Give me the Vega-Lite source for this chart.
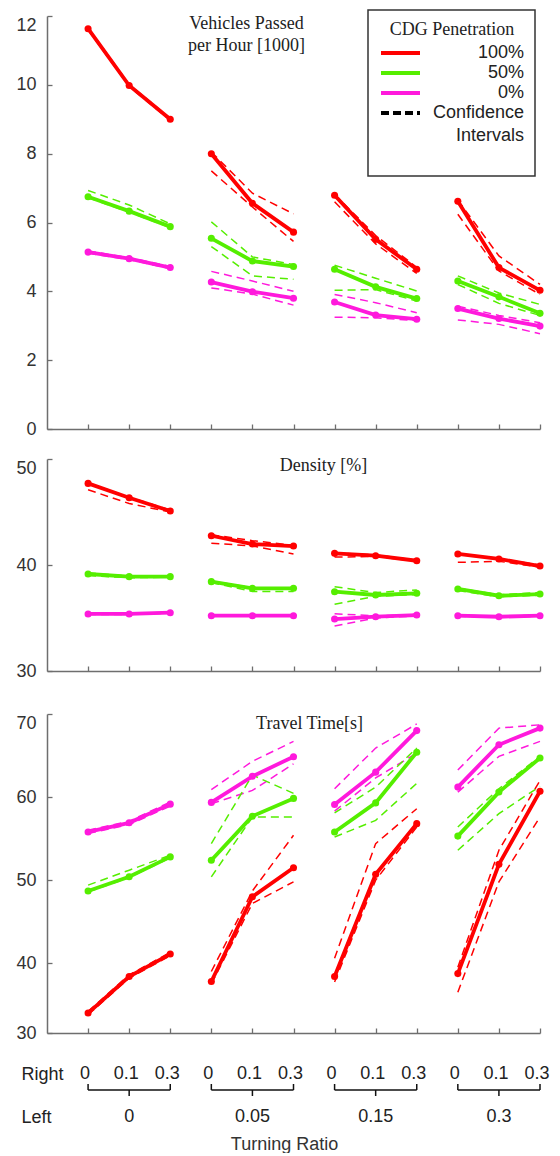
{
"$schema": "https://vega.github.io/schema/vega-lite/v6.json",
"padding": {"left": 15, "top": 9, "right": 5, "bottom": 0},
"config": {
  "view": {"stroke": null},
  "axis": {"grid": false, "domainColor": "#6e6e6e", "domainWidth": 1.5, "tickColor": "#6e6e6e", "tickWidth": 1.3, "labelFont": "Liberation Sans", "labelFontSize": 18, "labelColor": "#333333"}
},
"data": {"values": [
{"m":"flow","pen":"100%","left":"0","right":"0","i":1,"mean":11.63,"lo":11.6,"hi":11.66},
{"m":"flow","pen":"100%","left":"0","right":"0.1","i":2,"mean":9.98,"lo":9.95,"hi":10.01},
{"m":"flow","pen":"100%","left":"0","right":"0.3","i":3,"mean":9.0,"lo":8.97,"hi":9.03},
{"m":"flow","pen":"100%","left":"0.05","right":"0","i":4,"mean":8.0,"lo":7.5,"hi":8.05},
{"m":"flow","pen":"100%","left":"0.05","right":"0.1","i":5,"mean":6.56,"lo":6.45,"hi":6.85},
{"m":"flow","pen":"100%","left":"0.05","right":"0.3","i":6,"mean":5.72,"lo":5.45,"hi":6.25},
{"m":"flow","pen":"100%","left":"0.15","right":"0","i":7,"mean":6.79,"lo":6.6,"hi":6.82},
{"m":"flow","pen":"100%","left":"0.15","right":"0.1","i":8,"mean":5.51,"lo":5.38,"hi":5.62},
{"m":"flow","pen":"100%","left":"0.15","right":"0.3","i":9,"mean":4.64,"lo":4.52,"hi":4.7},
{"m":"flow","pen":"100%","left":"0.3","right":"0","i":10,"mean":6.62,"lo":6.24,"hi":6.65},
{"m":"flow","pen":"100%","left":"0.3","right":"0.1","i":11,"mean":4.69,"lo":4.59,"hi":5.03},
{"m":"flow","pen":"100%","left":"0.3","right":"0.3","i":12,"mean":4.03,"lo":3.91,"hi":4.2},
{"m":"flow","pen":"50%","left":"0","right":"0","i":1,"mean":6.75,"lo":6.72,"hi":6.93},
{"m":"flow","pen":"50%","left":"0","right":"0.1","i":2,"mean":6.33,"lo":6.3,"hi":6.51},
{"m":"flow","pen":"50%","left":"0","right":"0.3","i":3,"mean":5.88,"lo":5.85,"hi":5.96},
{"m":"flow","pen":"50%","left":"0.05","right":"0","i":4,"mean":5.54,"lo":5.3,"hi":6.02},
{"m":"flow","pen":"50%","left":"0.05","right":"0.1","i":5,"mean":4.88,"lo":4.45,"hi":5.0},
{"m":"flow","pen":"50%","left":"0.05","right":"0.3","i":6,"mean":4.72,"lo":4.35,"hi":4.78},
{"m":"flow","pen":"50%","left":"0.15","right":"0","i":7,"mean":4.64,"lo":4.03,"hi":4.76},
{"m":"flow","pen":"50%","left":"0.15","right":"0.1","i":8,"mean":4.13,"lo":4.05,"hi":4.38},
{"m":"flow","pen":"50%","left":"0.15","right":"0.3","i":9,"mean":3.79,"lo":3.72,"hi":4.01},
{"m":"flow","pen":"50%","left":"0.3","right":"0","i":10,"mean":4.3,"lo":4.2,"hi":4.45},
{"m":"flow","pen":"50%","left":"0.3","right":"0.1","i":11,"mean":3.84,"lo":3.65,"hi":3.95},
{"m":"flow","pen":"50%","left":"0.3","right":"0.3","i":12,"mean":3.36,"lo":3.3,"hi":3.62},
{"m":"flow","pen":"0%","left":"0","right":"0","i":1,"mean":5.14,"lo":5.11,"hi":5.17},
{"m":"flow","pen":"0%","left":"0","right":"0.1","i":2,"mean":4.95,"lo":4.92,"hi":4.98},
{"m":"flow","pen":"0%","left":"0","right":"0.3","i":3,"mean":4.69,"lo":4.66,"hi":4.72},
{"m":"flow","pen":"0%","left":"0.05","right":"0","i":4,"mean":4.27,"lo":4.1,"hi":4.58},
{"m":"flow","pen":"0%","left":"0.05","right":"0.1","i":5,"mean":3.99,"lo":3.92,"hi":4.3},
{"m":"flow","pen":"0%","left":"0.05","right":"0.3","i":6,"mean":3.8,"lo":3.6,"hi":4.0},
{"m":"flow","pen":"0%","left":"0.15","right":"0","i":7,"mean":3.69,"lo":3.25,"hi":3.91},
{"m":"flow","pen":"0%","left":"0.15","right":"0.1","i":8,"mean":3.31,"lo":3.23,"hi":3.67},
{"m":"flow","pen":"0%","left":"0.15","right":"0.3","i":9,"mean":3.19,"lo":3.15,"hi":3.38},
{"m":"flow","pen":"0%","left":"0.3","right":"0","i":10,"mean":3.5,"lo":3.17,"hi":3.57},
{"m":"flow","pen":"0%","left":"0.3","right":"0.1","i":11,"mean":3.21,"lo":3.04,"hi":3.3},
{"m":"flow","pen":"0%","left":"0.3","right":"0.3","i":12,"mean":2.99,"lo":2.77,"hi":3.09},
{"m":"dens","pen":"100%","left":"0","right":"0","i":1,"mean":47.7,"lo":47.1,"hi":47.75},
{"m":"dens","pen":"100%","left":"0","right":"0.1","i":2,"mean":46.35,"lo":45.8,"hi":46.4},
{"m":"dens","pen":"100%","left":"0","right":"0.3","i":3,"mean":45.1,"lo":45.0,"hi":45.2},
{"m":"dens","pen":"100%","left":"0.05","right":"0","i":4,"mean":42.76,"lo":42.05,"hi":42.85},
{"m":"dens","pen":"100%","left":"0.05","right":"0.1","i":5,"mean":41.98,"lo":41.8,"hi":42.3},
{"m":"dens","pen":"100%","left":"0.05","right":"0.3","i":6,"mean":41.79,"lo":41.04,"hi":41.85},
{"m":"dens","pen":"100%","left":"0.15","right":"0","i":7,"mean":41.1,"lo":40.75,"hi":41.15},
{"m":"dens","pen":"100%","left":"0.15","right":"0.1","i":8,"mean":40.88,"lo":40.8,"hi":40.95},
{"m":"dens","pen":"100%","left":"0.15","right":"0.3","i":9,"mean":40.4,"lo":40.35,"hi":40.45},
{"m":"dens","pen":"100%","left":"0.3","right":"0","i":10,"mean":41.04,"lo":40.25,"hi":41.05},
{"m":"dens","pen":"100%","left":"0.3","right":"0.1","i":11,"mean":40.57,"lo":40.35,"hi":40.6},
{"m":"dens","pen":"100%","left":"0.3","right":"0.3","i":12,"mean":39.9,"lo":39.8,"hi":40.0},
{"m":"dens","pen":"50%","left":"0","right":"0","i":1,"mean":39.15,"lo":39.0,"hi":39.25},
{"m":"dens","pen":"50%","left":"0","right":"0.1","i":2,"mean":38.9,"lo":38.8,"hi":38.95},
{"m":"dens","pen":"50%","left":"0","right":"0.3","i":3,"mean":38.9,"lo":38.85,"hi":38.95},
{"m":"dens","pen":"50%","left":"0.05","right":"0","i":4,"mean":38.43,"lo":38.35,"hi":38.5},
{"m":"dens","pen":"50%","left":"0.05","right":"0.1","i":5,"mean":37.8,"lo":37.5,"hi":37.85},
{"m":"dens","pen":"50%","left":"0.05","right":"0.3","i":6,"mean":37.8,"lo":37.5,"hi":37.85},
{"m":"dens","pen":"50%","left":"0.15","right":"0","i":7,"mean":37.48,"lo":36.3,"hi":37.95},
{"m":"dens","pen":"50%","left":"0.15","right":"0.1","i":8,"mean":37.17,"lo":37.05,"hi":37.4},
{"m":"dens","pen":"50%","left":"0.15","right":"0.3","i":9,"mean":37.33,"lo":37.2,"hi":37.65},
{"m":"dens","pen":"50%","left":"0.3","right":"0","i":10,"mean":37.74,"lo":37.6,"hi":37.8},
{"m":"dens","pen":"50%","left":"0.3","right":"0.1","i":11,"mean":37.1,"lo":37.0,"hi":37.2},
{"m":"dens","pen":"50%","left":"0.3","right":"0.3","i":12,"mean":37.26,"lo":37.15,"hi":37.4},
{"m":"dens","pen":"0%","left":"0","right":"0","i":1,"mean":35.38,"lo":35.33,"hi":35.43},
{"m":"dens","pen":"0%","left":"0","right":"0.1","i":2,"mean":35.38,"lo":35.33,"hi":35.43},
{"m":"dens","pen":"0%","left":"0","right":"0.3","i":3,"mean":35.5,"lo":35.45,"hi":35.55},
{"m":"dens","pen":"0%","left":"0.05","right":"0","i":4,"mean":35.22,"lo":35.17,"hi":35.27},
{"m":"dens","pen":"0%","left":"0.05","right":"0.1","i":5,"mean":35.22,"lo":35.17,"hi":35.27},
{"m":"dens","pen":"0%","left":"0.05","right":"0.3","i":6,"mean":35.22,"lo":35.17,"hi":35.27},
{"m":"dens","pen":"0%","left":"0.15","right":"0","i":7,"mean":34.9,"lo":34.25,"hi":35.4},
{"m":"dens","pen":"0%","left":"0.15","right":"0.1","i":8,"mean":35.12,"lo":35.0,"hi":35.2},
{"m":"dens","pen":"0%","left":"0.15","right":"0.3","i":9,"mean":35.28,"lo":35.2,"hi":35.35},
{"m":"dens","pen":"0%","left":"0.3","right":"0","i":10,"mean":35.22,"lo":35.17,"hi":35.27},
{"m":"dens","pen":"0%","left":"0.3","right":"0.1","i":11,"mean":35.12,"lo":35.07,"hi":35.17},
{"m":"dens","pen":"0%","left":"0.3","right":"0.3","i":12,"mean":35.22,"lo":35.17,"hi":35.27},
{"m":"tt","pen":"100%","left":"0","right":"0","i":1,"mean":34.0,"lo":33.8,"hi":34.2},
{"m":"tt","pen":"100%","left":"0","right":"0.1","i":2,"mean":38.4,"lo":38.2,"hi":38.6},
{"m":"tt","pen":"100%","left":"0","right":"0.3","i":3,"mean":41.1,"lo":40.9,"hi":41.3},
{"m":"tt","pen":"100%","left":"0.05","right":"0","i":4,"mean":37.8,"lo":37.5,"hi":39.0},
{"m":"tt","pen":"100%","left":"0.05","right":"0.1","i":5,"mean":48.0,"lo":47.2,"hi":48.7},
{"m":"tt","pen":"100%","left":"0.05","right":"0.3","i":6,"mean":51.5,"lo":49.8,"hi":55.4},
{"m":"tt","pen":"100%","left":"0.15","right":"0","i":7,"mean":38.4,"lo":37.75,"hi":40.6},
{"m":"tt","pen":"100%","left":"0.15","right":"0.1","i":8,"mean":50.7,"lo":50.0,"hi":54.4},
{"m":"tt","pen":"100%","left":"0.15","right":"0.3","i":9,"mean":56.8,"lo":56.4,"hi":58.6},
{"m":"tt","pen":"100%","left":"0.3","right":"0","i":10,"mean":38.75,"lo":36.5,"hi":39.5},
{"m":"tt","pen":"100%","left":"0.3","right":"0.1","i":11,"mean":51.9,"lo":49.8,"hi":53.6},
{"m":"tt","pen":"100%","left":"0.3","right":"0.3","i":12,"mean":60.7,"lo":57.6,"hi":62.0},
{"m":"tt","pen":"50%","left":"0","right":"0","i":1,"mean":48.7,"lo":48.6,"hi":49.4},
{"m":"tt","pen":"50%","left":"0","right":"0.1","i":2,"mean":50.4,"lo":50.3,"hi":51.2},
{"m":"tt","pen":"50%","left":"0","right":"0.3","i":3,"mean":52.8,"lo":52.7,"hi":53.0},
{"m":"tt","pen":"50%","left":"0.05","right":"0","i":4,"mean":52.4,"lo":50.4,"hi":54.4},
{"m":"tt","pen":"50%","left":"0.05","right":"0.1","i":5,"mean":57.7,"lo":57.6,"hi":62.65},
{"m":"tt","pen":"50%","left":"0.05","right":"0.3","i":6,"mean":59.84,"lo":57.6,"hi":60.45},
{"m":"tt","pen":"50%","left":"0.15","right":"0","i":7,"mean":55.8,"lo":55.2,"hi":58.1},
{"m":"tt","pen":"50%","left":"0.15","right":"0.1","i":8,"mean":59.3,"lo":57.2,"hi":61.2},
{"m":"tt","pen":"50%","left":"0.15","right":"0.3","i":9,"mean":65.4,"lo":61.65,"hi":65.9},
{"m":"tt","pen":"50%","left":"0.3","right":"0","i":10,"mean":55.3,"lo":53.6,"hi":56.4},
{"m":"tt","pen":"50%","left":"0.3","right":"0.1","i":11,"mean":60.6,"lo":58.0,"hi":61.0},
{"m":"tt","pen":"50%","left":"0.3","right":"0.3","i":12,"mean":64.7,"lo":61.3,"hi":64.9},
{"m":"tt","pen":"0%","left":"0","right":"0","i":1,"mean":55.8,"lo":55.6,"hi":56.0},
{"m":"tt","pen":"0%","left":"0","right":"0.1","i":2,"mean":56.9,"lo":56.7,"hi":57.1},
{"m":"tt","pen":"0%","left":"0","right":"0.3","i":3,"mean":59.15,"lo":58.9,"hi":59.4},
{"m":"tt","pen":"0%","left":"0.05","right":"0","i":4,"mean":59.36,"lo":59.2,"hi":60.9},
{"m":"tt","pen":"0%","left":"0.05","right":"0.1","i":5,"mean":62.5,"lo":60.8,"hi":64.3},
{"m":"tt","pen":"0%","left":"0.05","right":"0.3","i":6,"mean":64.86,"lo":64.0,"hi":66.7},
{"m":"tt","pen":"0%","left":"0.15","right":"0","i":7,"mean":59.1,"lo":58.3,"hi":61.0},
{"m":"tt","pen":"0%","left":"0.15","right":"0.1","i":8,"mean":63.0,"lo":62.3,"hi":65.9},
{"m":"tt","pen":"0%","left":"0.15","right":"0.3","i":9,"mean":68.0,"lo":65.3,"hi":68.8},
{"m":"tt","pen":"0%","left":"0.3","right":"0","i":10,"mean":61.2,"lo":60.6,"hi":63.25},
{"m":"tt","pen":"0%","left":"0.3","right":"0.1","i":11,"mean":66.3,"lo":64.9,"hi":68.3},
{"m":"tt","pen":"0%","left":"0.3","right":"0.3","i":12,"mean":68.3,"lo":66.7,"hi":68.7}
]},
"resolve": {"legend": {"color": "independent"}},
"spacing": 19,
"vconcat": [
  {
    "width": 493, "height": 413,
    "title": {"text": ["Vehicles Passed", "per Hour [1000]"], "frame": "group", "anchor": "middle", "orient": "top", "baseline": "top", "offset": -46, "dx": -47, "font": "Liberation Serif", "fontSize": 18, "fontWeight": "normal", "color": "#222222", "lineHeight": 22},
    "transform": [{"filter": "datum.m == 'flow'"}],
    "encoding": {
      "x": {"field": "i", "type": "quantitative", "scale": {"domain": [0, 12], "nice": false}, "axis": {"values": [1,2,3,4,5,6,7,8,9,10,11,12], "labels": false, "title": null, "tickSize": -5}},
      "color": {"field": "pen", "type": "nominal",
        "scale": {"domain": ["100%", "50%", "0%", "Confidence Intervals", " "], "range": ["#ff0000", "#55ee00", "#ff19dc", "#000000", "#ffffff"]},
        "legend": {"orient": "none", "legendX": 321, "legendY": -6, "title": "CDG Penetration", "titleFont": "Liberation Serif", "titleFontSize": 18, "titleFontWeight": "normal", "titleColor": "#222222", "titleAnchor": "middle", "titlePadding": 4,
          "symbolType": "stroke", "symbolSize": 1521, "symbolStrokeWidth": 4, "clipHeight": 20, "rowPadding": 0,
          "labelAlign": "right", "labelOffset": 102, "labelFont": "Liberation Sans", "labelFontSize": 18, "labelColor": "#222222",
          "labelExpr": "datum.value == 'Confidence Intervals' ? ['Confidence', 'Intervals'] : datum.label",
          "strokeColor": "#333333", "padding": 11,
          "encode": {
            "symbols": {"update": {"strokeDash": {"signal": "datum.value == 'Confidence Intervals' ? [8, 4] : [1, 0]"}}},
            "labels": {"update": {"lineHeight": {"value": 23}}},
            "legend": {"update": {"strokeWidth": {"value": 1.5}}}
          }}},
      "detail": {"field": "left", "type": "nominal"}
    },
    "layer": [
      {"mark": {"type": "line", "strokeDash": [8, 5], "strokeWidth": 1.5},
       "encoding": {"y": {"field": "lo", "type": "quantitative", "scale": {"domain": [0, 12], "nice": false},
         "axis": {"values": [0,2,4,6,8,10,12], "title": null, "tickSize": -5, "labelPadding": 16, "labelBaseline": {"condition": {"test": "datum.value == 12", "value": "top"}, "value": "middle"}}}}},
      {"mark": {"type": "line", "strokeDash": [8, 5], "strokeWidth": 1.5},
       "encoding": {"y": {"field": "hi", "type": "quantitative", "title": null}}},
      {"mark": {"type": "line", "strokeWidth": 3.8, "point": {"filled": true, "size": 50}},
       "encoding": {"y": {"field": "mean", "type": "quantitative", "title": null}}}
    ]
  },
  {
    "spacing": 33,
    "vconcat": [
      {
        "width": 493, "height": 212,
        "title": {"text": "Density [%]", "frame": "group", "anchor": "middle", "orient": "top", "baseline": "top", "offset": -17, "dx": 30, "font": "Liberation Serif", "fontSize": 18, "fontWeight": "normal", "color": "#222222"},
        "transform": [{"filter": "datum.m == 'dens'"}],
        "encoding": {
          "x": {"field": "i", "type": "quantitative", "scale": {"domain": [0, 12], "nice": false}, "axis": {"values": [1,2,3,4,5,6,7,8,9,10,11,12], "labels": false, "title": null, "tickSize": -5}},
          "color": {"field": "pen", "type": "nominal", "scale": {"domain": ["100%", "50%", "0%", "Confidence Intervals", " "], "range": ["#ff0000", "#55ee00", "#ff19dc", "#000000", "#ffffff"]}, "legend": null},
          "detail": {"field": "left", "type": "nominal"}
        },
        "layer": [
          {"mark": {"type": "line", "strokeDash": [8, 5], "strokeWidth": 1.5},
           "encoding": {"y": {"field": "lo", "type": "quantitative", "scale": {"domain": [30, 50], "nice": false},
             "axis": {"values": [30, 40, 50], "title": null, "tickSize": -5, "labelPadding": 16, "labelBaseline": {"condition": {"test": "datum.value == 50", "value": "top"}, "value": "middle"}}}}},
          {"mark": {"type": "line", "strokeDash": [8, 5], "strokeWidth": 1.5},
           "encoding": {"y": {"field": "hi", "type": "quantitative", "title": null}}},
          {"mark": {"type": "line", "strokeWidth": 3.8, "point": {"filled": true, "size": 50}},
           "encoding": {"y": {"field": "mean", "type": "quantitative", "title": null}}}
        ]
      },
      {
        "spacing": 23,
        "vconcat": [
          {
            "width": 493, "height": 319,
            "title": {"text": "Travel Time[s]", "frame": "group", "anchor": "middle", "orient": "top", "baseline": "top", "offset": -20, "dx": 16, "font": "Liberation Serif", "fontSize": 18, "fontWeight": "normal", "color": "#222222"},
            "transform": [{"filter": "datum.m == 'tt'"}],
            "encoding": {
              "x": {"field": "i", "type": "quantitative", "scale": {"domain": [0, 12], "nice": false}, "axis": {"values": [1,2,3,4,5,6,7,8,9,10,11,12], "labels": false, "title": null, "tickSize": -5}},
              "color": {"field": "pen", "type": "nominal", "scale": {"domain": ["100%", "50%", "0%", "Confidence Intervals", " "], "range": ["#ff0000", "#55ee00", "#ff19dc", "#000000", "#ffffff"]}, "legend": null},
              "detail": {"field": "left", "type": "nominal"}
            },
            "layer": [
              {"mark": {"type": "line", "strokeDash": [8, 5], "strokeWidth": 1.5},
               "encoding": {"y": {"field": "lo", "type": "quantitative", "scale": {"domain": [31.6, 70], "nice": false},
                 "axis": {"values": [31.6, 40, 50, 60, 70], "title": null, "tickSize": -5, "labelPadding": 16, "labelExpr": "datum.value < 35 ? '30' : datum.label", "labelBaseline": {"condition": {"test": "datum.value == 70", "value": "top"}, "value": "middle"}}}}},
              {"mark": {"type": "line", "strokeDash": [8, 5], "strokeWidth": 1.5},
               "encoding": {"y": {"field": "hi", "type": "quantitative", "title": null}}},
              {"mark": {"type": "line", "strokeWidth": 3.8, "point": {"filled": true, "size": 50}},
               "encoding": {"y": {"field": "mean", "type": "quantitative", "title": null}}}
            ]
          },
          {
            "width": 493, "height": 43,
            "transform": [{"filter": "datum.m == 'flow' && datum.pen == '100%'"}],
            "layer": [
              {"mark": {"type": "text", "fontSize": 18, "font": "Liberation Sans", "color": "#222222", "dx": -3},
               "encoding": {
                 "x": {"field": "i", "type": "quantitative", "scale": {"domain": [0, 12], "nice": false}, "axis": {"domain": false, "ticks": false, "labels": false, "title": "Turning Ratio", "titleFont": "Liberation Sans", "titleFontSize": 18, "titleFontWeight": "normal", "titleColor": "#333333", "titlePadding": 18, "titleX": 237}},
                 "y": {"datum": "Right", "type": "nominal", "scale": {"type": "point", "domain": ["Right", "Left"], "padding": 0}, "axis": {"domain": false, "ticks": false, "title": null, "labelAlign": "left", "labelPadding": 26, "labelColor": "#222222"}},
                 "text": {"field": "right"}}},
              {"transform": [{"filter": "datum.right == '0.1'"}],
               "mark": {"type": "text", "fontSize": 18, "font": "Liberation Sans", "color": "#222222"},
               "encoding": {"x": {"field": "i", "type": "quantitative"}, "y": {"datum": "Left", "type": "nominal"}, "text": {"field": "left"}}},
              {"transform": [{"aggregate": [{"op": "min", "field": "i", "as": "s"}, {"op": "max", "field": "i", "as": "e"}], "groupby": ["left"]}],
               "mark": {"type": "rule", "yOffset": 16, "strokeWidth": 1.5, "color": "#111111"},
               "encoding": {"x": {"field": "s", "type": "quantitative"}, "x2": {"field": "e"}, "y": {"datum": "Right", "type": "nominal"}}},
              {"transform": [{"aggregate": [{"op": "min", "field": "i", "as": "s"}], "groupby": ["left"]}],
               "mark": {"type": "rule", "yOffset": 10, "y2Offset": 16, "strokeWidth": 1.5, "color": "#111111"},
               "encoding": {"x": {"field": "s", "type": "quantitative"}, "y": {"datum": "Right", "type": "nominal"}, "y2": {"datum": "Right"}}},
              {"transform": [{"aggregate": [{"op": "max", "field": "i", "as": "e"}], "groupby": ["left"]}],
               "mark": {"type": "rule", "yOffset": 10, "y2Offset": 16, "strokeWidth": 1.5, "color": "#111111"},
               "encoding": {"x": {"field": "e", "type": "quantitative"}, "y": {"datum": "Right", "type": "nominal"}, "y2": {"datum": "Right"}}},
              {"transform": [{"filter": "datum.right == '0.1'"}],
               "mark": {"type": "rule", "yOffset": 16, "y2Offset": 22, "strokeWidth": 1.5, "color": "#111111"},
               "encoding": {"x": {"field": "i", "type": "quantitative"}, "y": {"datum": "Right", "type": "nominal"}, "y2": {"datum": "Right"}}}
            ]
          }
        ]
      }
    ]
  }
]
}
